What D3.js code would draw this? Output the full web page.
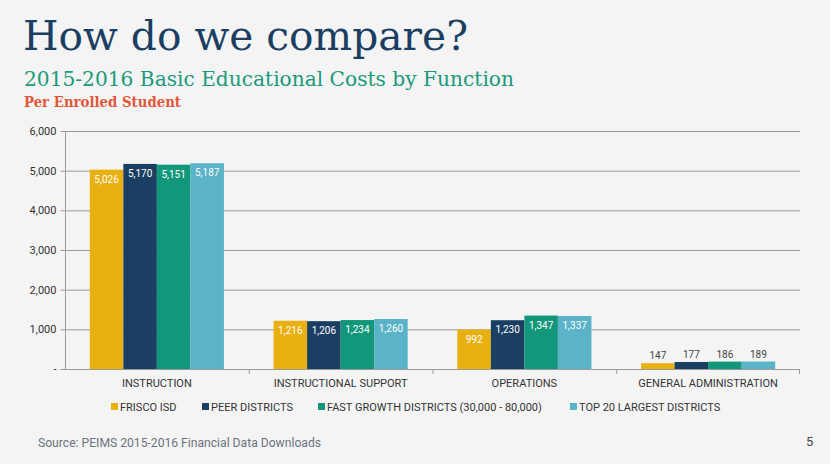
<!DOCTYPE html>
<html><head><meta charset="utf-8">
<script src="https://cdn.jsdelivr.net/npm/d3@7"></script>
<style>
body{margin:0;background:#F4F4F4;}
svg{display:block;}
</style></head>
<body><svg id="c" width="830" height="464"></svg>
<script>
const categories = ["INSTRUCTION","INSTRUCTIONAL SUPPORT","OPERATIONS","GENERAL ADMINISTRATION"];
const seriesNames = ["FRISCO ISD","PEER DISTRICTS","FAST GROWTH DISTRICTS (30,000 - 80,000)","TOP 20 LARGEST DISTRICTS"];
const frisco = [5026,1216,992,147];
const peer = [5170,1206,1230,177];
const fastGrowth = [5151,1234,1347,186];
const top20 = [5187,1260,1337,189];
const yTicks = [0,1000,2000,3000,4000,5000,6000];
const colors = ["#E8B010","#1B3F63","#12977A","#5BB3C8"];
const series = [frisco, peer, fastGrowth, top20];

(function(){
const svg = d3.select("#c");
svg.append("rect").attr("width",830).attr("height",464).attr("fill","#F4F4F4");

const pL=65, pR=800, pT=131, pB=369;
const x0 = d3.scaleBand().domain(categories).range([pL,pR]).paddingInner(0).paddingOuter(0);
const x1 = d3.scaleBand().domain(d3.range(4)).range([0,x0.bandwidth()]).paddingInner(0).paddingOuter(0.74);
const y = d3.scaleLinear().domain([0,6000]).range([pB,pT]);

// gridlines
svg.append("g").selectAll("line").data(yTicks.filter(d=>d>0)).join("line")
  .attr("x1",pL).attr("x2",pR).attr("y1",d=>y(d)+0.5).attr("y2",d=>y(d)+0.5)
  .attr("stroke","#9a9a9a").attr("stroke-width",1);

// y axis
const yAxis = d3.axisLeft(y).tickValues(yTicks).tickSize(5).tickPadding(4)
  .tickFormat(d=> d===0 ? "-" : d3.format(",")(d));
const ya = svg.append("g").attr("transform",`translate(${pL+0.5},0)`).call(yAxis);
ya.select(".domain").attr("stroke","#9a9a9a").attr("d",`M0,${pT}V${pB+0.5}`);
ya.selectAll(".tick line").attr("stroke","#9a9a9a");
ya.selectAll("text").attr("font-family","Roboto").attr("font-size",11).attr("fill","#333");

// bars
const g = svg.append("g");
categories.forEach((c,ci)=>{
  series.forEach((s,si)=>{
    const bx = x0(c)+x1(si), bw = x1.bandwidth(), v = s[ci];
    g.append("rect").attr("x",bx).attr("y",y(v)).attr("width",bw).attr("height",y(0)-y(v)).attr("fill",colors[si]);
    const inside = (y(0)-y(v))>30;
    g.append("text").attr("x",bx+bw/2).attr("y", inside ? y(v)+13 : y(v)-4)
      .attr("text-anchor","middle").attr("font-family","Roboto").attr("font-size",10)
      .attr("fill", inside ? "#ffffff" : "#444").text(d3.format(",")(v));
  });
});

// x axis
const xAxis = d3.axisBottom(x0).tickSize(0).tickPadding(10);
const xa = svg.append("g").attr("transform",`translate(0,${pB+0.5})`).call(xAxis);
xa.select(".domain").attr("stroke","#9a9a9a").attr("d",`M${pL},0H${pR}`);
xa.selectAll("text").attr("font-family","Roboto").attr("font-size",11).attr("fill","#333");
svg.append("g").selectAll("line").data(categories.slice(1).concat(["__end"])).join("line")
  .attr("x1",d=> d==="__end"? pR-0.5 : x0(d)+0.5).attr("x2",d=> d==="__end"? pR-0.5 : x0(d)+0.5)
  .attr("y1",pB).attr("y2",pB+5).attr("stroke","#9a9a9a");

// legend
const legX = [111,202,318,570];
const leg = svg.append("g");
seriesNames.forEach((n,i)=>{
  leg.append("rect").attr("x",legX[i]).attr("y",403).attr("width",7).attr("height",7).attr("fill",colors[i]);
  leg.append("text").attr("x",legX[i]+9).attr("y",410.5).attr("font-family","Roboto").attr("font-size",11).attr("fill","#333").text(n);
});

// titles
svg.append("text").attr("x",23).attr("y",50).attr("font-family","'DejaVu Serif'").attr("font-size",41)
  .attr("fill","#1B3F63").attr("textLength",445).attr("lengthAdjust","spacingAndGlyphs").text("How do we compare?");
svg.append("text").attr("x",24).attr("y",86).attr("font-family","'DejaVu Serif'").attr("font-size",20)
  .attr("fill","#1A9A7A").attr("textLength",490).attr("lengthAdjust","spacingAndGlyphs").text("2015-2016 Basic Educational Costs by Function");
svg.append("text").attr("x",24).attr("y",107).attr("font-family","'DejaVu Serif'").attr("font-size",14).attr("font-weight","bold")
  .attr("fill","#E0573A").attr("textLength",157).attr("lengthAdjust","spacingAndGlyphs").text("Per Enrolled Student");

// footer
svg.append("text").attr("x",38).attr("y",447).attr("font-family","Roboto").attr("font-size",12.5)
  .attr("fill","#6b7280").attr("textLength",283).attr("lengthAdjust","spacingAndGlyphs").text("Source: PEIMS 2015-2016 Financial Data Downloads");
svg.append("text").attr("x",806).attr("y",446).attr("font-family","Roboto").attr("font-size",13)
  .attr("fill","#444").text("5");
})();
</script></body></html>
